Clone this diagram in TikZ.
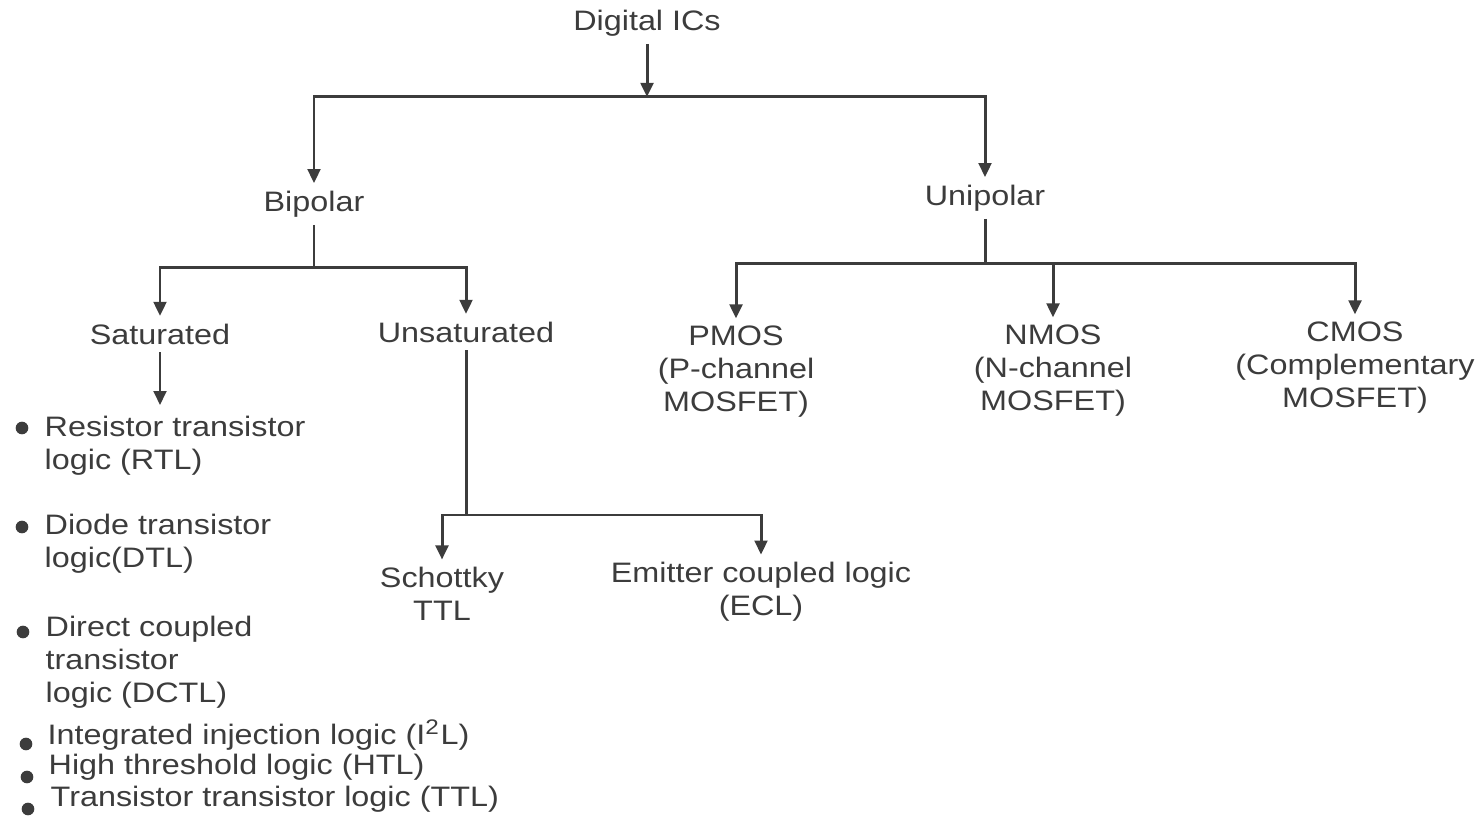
\documentclass[tikz,border=0pt]{standalone}
\usepackage{fontspec}
\setmainfont{Liberation Sans}[FakeStretch=1.15]
\usepackage{tikz}
\usetikzlibrary{arrows.meta,positioning}
\definecolor{ink}{HTML}{3C3C3C}

\begin{document}
\begin{tikzpicture}[
  x=0.01cm,y=-0.01cm,
  every node/.style={
    text=ink,font=\fontsize{8}{9.4}\selectfont,
    inner sep=2pt
  },
  lbl/.style={align=center},
  item/.style={anchor=west,align=left,inner xsep=0pt,inner ysep=3pt},
  line/.style={anchor=west,inner xsep=0pt,inner ysep=0pt},
  arr/.style={draw=ink,line width=0.85pt,-{Triangle[length=4pt,width=3.6pt]}},
  ln/.style={draw=ink,line width=0.85pt}
]
  \useasboundingbox (0,0) rectangle (1482,819);

  \node[lbl] (dig) at (647,23) {Digital ICs};
  \node[lbl] (bip) at (314,204) {Bipolar};
  \node[lbl] (uni) at (985,198) {Unipolar};
  \node[lbl] (sat) at (160,334) {Saturated};
  \node[lbl] (unsat) at (466,332) {Unsaturated};
  \node[lbl] (pmos) at (736,372) {PMOS\\(P-channel\\MOSFET)};
  \node[lbl] (nmos) at (1053,371) {NMOS\\(N-channel\\MOSFET)};
  \node[lbl] (cmos) at (1355,368) {CMOS\\(Complementary\\MOSFET)};
  \node[lbl] (stl) at (442,594) {Schottky\\TTL};
  \node[lbl] (ecl) at (761,592) {Emitter coupled logic\\(ECL)};

  \node[item] (rtl) at (44,446) {Resistor transistor\\logic (RTL)};
  \node[item] (dtl) at (44,544) {Diode transistor\\logic(DTL)};
  \node[item] (dctl) at (45,662) {Direct coupled\\transistor\\logic (DCTL)};
  \node[line] (iil) at (47,735) {Integrated injection logic (I\textsuperscript{2}L)};
  \node[line] (htl) at (48,767) {High threshold logic (HTL)};
  \node[line] (ttl) at (50,799) {Transistor transistor logic (TTL)};

  \foreach \bx/\by in {22/428,22/527,23/632,26/744,27/777,28/809}
    \fill[ink] (\bx,\by) circle (1.8pt);

  \coordinate (j1) at (dig |- 0,97);
  \coordinate (j2) at (bip |- 0,268);
  \coordinate (j3) at (unsat |- 0,515);
  \coordinate (j4) at (uni |- 0,264);

  \draw[arr] (dig) -- (j1);
  \draw[arr] (j1) -| (bip);
  \draw[arr] (j1) -| (uni);

  \draw[ln] (bip) -- (j2);
  \draw[arr] (j2) -| (sat);
  \draw[arr] (j2) -| (unsat);
  \draw[arr] (sat) -- (sat |- rtl.north);

  \draw[ln] (unsat) -- (j3);
  \draw[arr] (j3) -| (stl);
  \draw[arr] (j3) -| (ecl);

  \draw[ln] (uni) -- (j4);
  \draw[arr] (j4) -| (pmos);
  \draw[arr] (j4) -| (nmos);
  \draw[arr] (j4) -| (cmos);
\end{tikzpicture}
\end{document}
